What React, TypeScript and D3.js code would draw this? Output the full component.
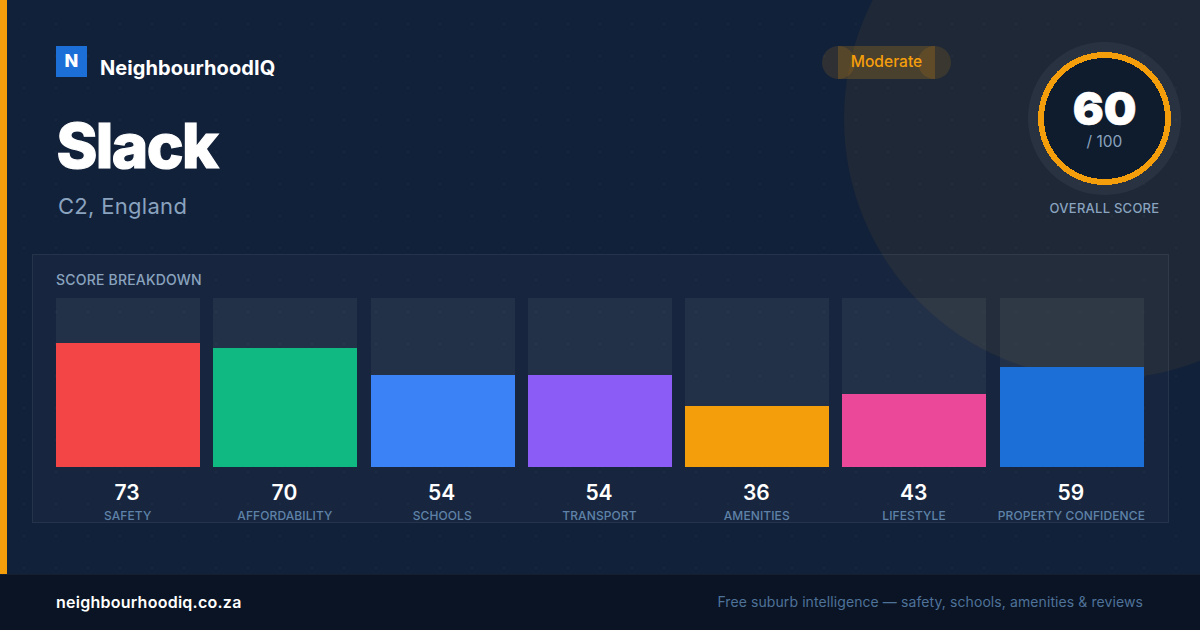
import * as d3 from "d3";

const categories = ["SAFETY", "AFFORDABILITY", "SCHOOLS", "TRANSPORT", "AMENITIES", "LIFESTYLE", "PROPERTY CONFIDENCE"];
const scores = [73, 70, 54, 54, 36, 43, 59];
const barColors = ["#f34545", "#10b981", "#3b82f6", "#8b5cf6", "#f59e0b", "#ec4899", "#1d6fd8"];
const overallScore = 60;
const W = 1200;
const H = 630;
const font = "Inter, sans-serif";

function App() {
  const x = d3.scaleBand<string>().domain(categories).range([56, 1144]).paddingInner(13 / 157.3);
  const y = d3.scaleLinear().domain([0, 100]).range([467, 298]);
  const dotX = d3.range(24, W, 32);
  const dotY = d3.range(24, 574, 32);
  const ring = d3.arc()({ innerRadius: 60.5, outerRadius: 66.5, startAngle: 0, endAngle: Math.PI * 2 }) as string;

  return (
    <svg width={W} height={H} viewBox={`0 0 ${W} ${H}`} style={{ position: "absolute", left: 0, top: 0, fontFamily: font }}>
      <rect width={W} height={H} fill="#12213a" />

      {/* big soft circle top right */}
      <circle cx={1104} cy={119} r={260} fill="#f59e0b" fillOpacity={0.06} />
      {dotY.map((py) => dotX.map((px) => (
        <rect key={`${px}-${py}`} x={px - 1} y={py - 1} width={2} height={2} fill="#ffffff" fillOpacity={0.025} />
      )))}

      <rect x={0} y={0} width={7} height={574} fill="#f59e0b" />

      {/* logo */}
      <rect x={56} y={46} width={31} height={31} fill="#1d6fd8" />
      <text x={71.5} y={66.7} textAnchor="middle" fontSize={18} fontWeight={800} fill="#fff">N</text>
      <text x={100} y={75} fontSize={20} fontWeight={700} fill="#fff" letterSpacing={0.07}>NeighbourhoodIQ</text>

      <text x={56.5} y={168} fontSize={62} fontWeight={800} fill="#fff" stroke="#fff" strokeWidth={1.2} letterSpacing={-1.6}>Slack</text>
      <text x={58} y={214} fontSize={22} fill="#8aa3bf" letterSpacing={0.3}>C2, England</text>

      {/* badge: pill ends and centre overlap */}
      <circle cx={838.5} cy={62.5} r={16.5} fill="#f59e0b" fillOpacity={0.13} />
      <circle cx={934.5} cy={62.5} r={16.5} fill="#f59e0b" fillOpacity={0.13} />
      <rect x={838} y={46} width={97} height={33} fill="#f59e0b" fillOpacity={0.2} />
      <text x={886.5} y={67} textAnchor="middle" fontSize={15.6} fontWeight={500} fill="#f59e0b">Moderate</text>

      {/* overall score */}
      <g transform="translate(1104.5,118.5)">
        <circle r={76.5} fill="#ffffff" fillOpacity={0.05} />
        <circle r={61} fill="#0f1c2e" />
        <path d={ring} fill="#f59e0b" shapeRendering="crispEdges" />
        <text y={6.5} textAnchor="middle" fontSize={46} fontWeight={900} fill="#fff" stroke="#fff" strokeWidth={0.6}>{overallScore}</text>
        <text y={28.5} textAnchor="middle" fontSize={15.5} fill="#8aa3bf">/ 100</text>
      </g>
      <text x={1104.5} y={213} textAnchor="middle" fontSize={13} fontWeight={500} fill="#8aa3bf" letterSpacing={0.25}>OVERALL SCORE</text>

      {/* breakdown panel */}
      <rect x={32.5} y={254.5} width={1136} height={268} fill="#ffffff" fillOpacity={0.025} stroke="#ffffff" strokeOpacity={0.08} />
      <text x={56} y={285} fontSize={14} fontWeight={500} fill="#8aa3bf" letterSpacing={0.2}>SCORE BREAKDOWN</text>

      {categories.map((c, i) => {
        const bx = Math.round(x(c) as number);
        const cx = (x(c) as number) + x.bandwidth() / 2;
        const top = Math.floor(y(scores[i]));
        return (
          <g key={c}>
            <rect x={bx} y={y(100)} width={144} height={y(0) - y(100)} fill="#ffffff" fillOpacity={0.055} />
            <rect x={bx} y={top} width={144} height={y(0) - top} fill={barColors[i]} />
            <text x={cx - 1} y={499.5} textAnchor="middle" fontSize={21} fontWeight={600} fill="#fff">{scores[i]}</text>
            <text x={cx - 0.5} y={520} textAnchor="middle" fontSize={12} fontWeight={500} fill="#5f82a8" letterSpacing={0.1}>{c}</text>
          </g>
        );
      })}

      {/* footer */}
      <rect x={0} y={574} width={W} height={56} fill="#0a1424" />
      <line x1={0} x2={W} y1={574.5} y2={574.5} stroke="#ffffff" strokeOpacity={0.05} />
      <text x={56} y={608} fontSize={16} fontWeight={600} fill="#fff" letterSpacing={0.25}>neighbourhoodiq.co.za</text>
      <text x={1143} y={607} textAnchor="end" fontSize={14} fill="#4f7299" letterSpacing={0.09}>Free suburb intelligence — safety, schools, amenities &amp; reviews</text>
    </svg>
  );
}

export default App;
